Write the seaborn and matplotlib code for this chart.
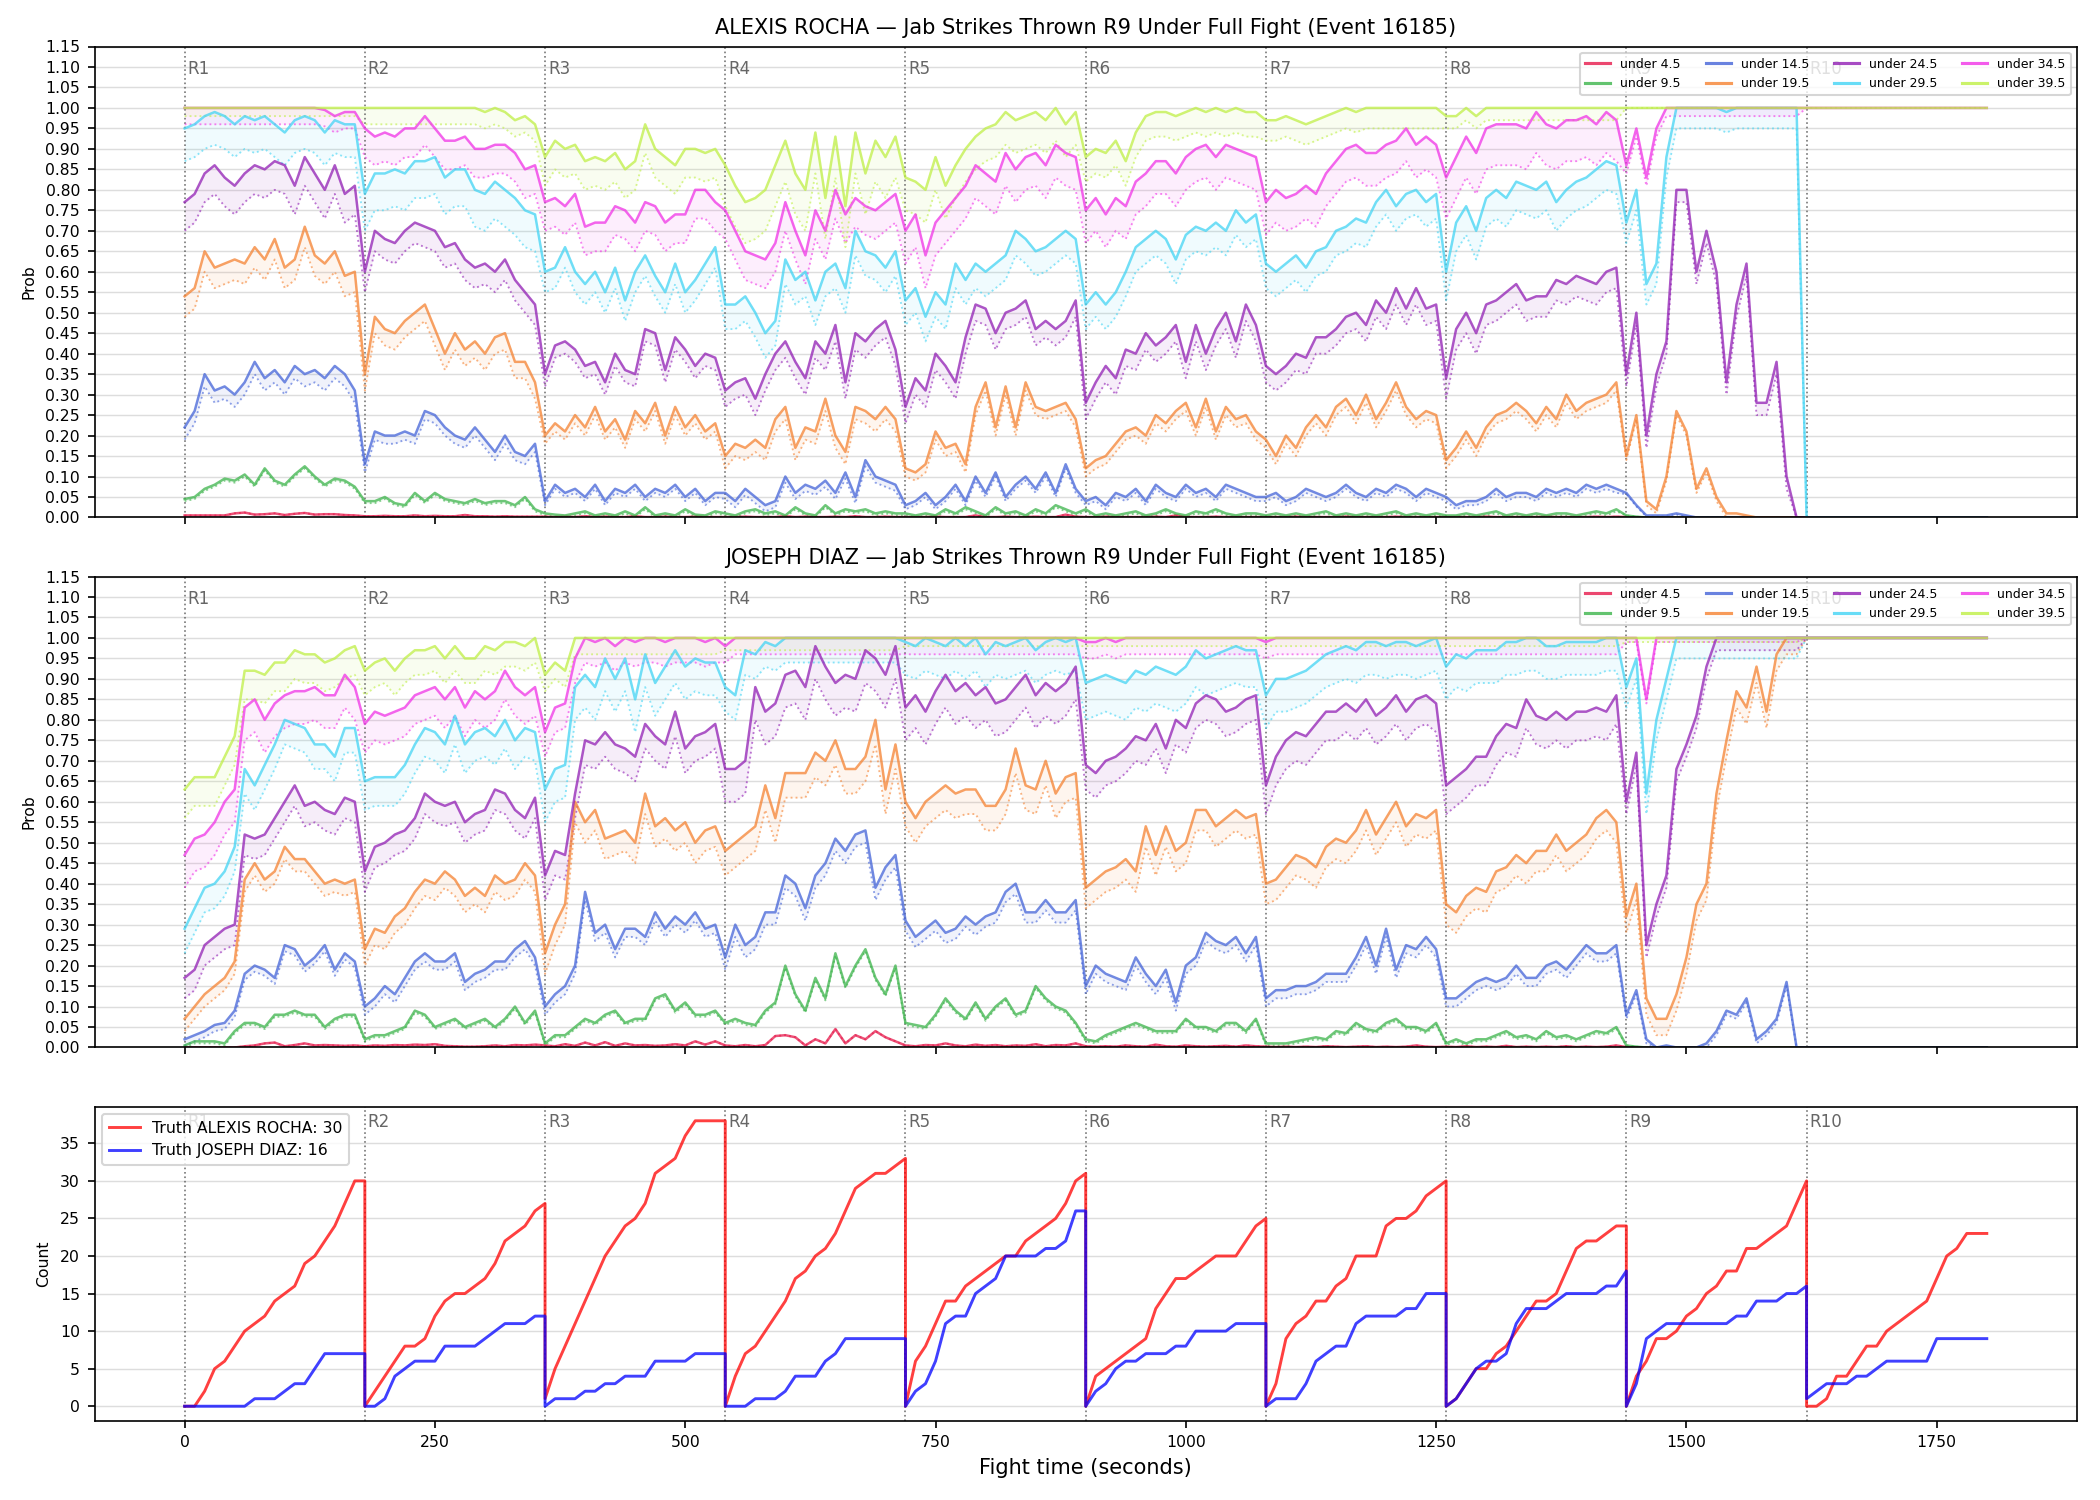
import numpy as np
import pandas as pd
import matplotlib
matplotlib.use("Agg")
import matplotlib.pyplot as plt
import matplotlib.transforms as mtransforms
from matplotlib.lines import Line2D
import seaborn as sns

fighter_a = "ALEXIS ROCHA"
fighter_b = "JOSEPH DIAZ"
title_tail = "Jab Strikes Thrown R9 Under Full Fight (Event 16185)"

thresholds = ["under 4.5", "under 9.5", "under 14.5", "under 19.5",
              "under 24.5", "under 29.5", "under 34.5", "under 39.5"]
colors = ["#e6194b", "#3cb44b", "#4363d8", "#f58231",
          "#911eb4", "#42d4f4", "#f032e6", "#bfef45"]

round_starts = [0, 180, 360, 540, 720, 900, 1080, 1260, 1440, 1620]
# probability samples every 10 s up to 1620, then held to 1800
prob_t = list(range(0, 1630, 10)) + [1800]

# ---- ALEXIS ROCHA probabilities (percent), one row per round R1..R9, then 1620, 1800
rocha_u45 = [
    0.5, 0.5, 0.5, 0.5, 0.5, 1.0, 1.2, 0.7, 0.8, 1.0, 0.6, 0.9, 1.1, 0.7, 0.8, 0.8, 0.6, 0.5,
    0.3, 0.3, 0.4, 0.3, 0.3, 0.5, 0.3, 0.4, 0.3, 0.3, 0.6, 0.3, 0.3, 0.2, 0.3, 0.2, 0.2, 0.2,
    0.2, 0.1, 0.2, 0.1, 0.3, 0.1, 0.2, 0.1, 0.1, 0.3, 0.1, 0.1, 0.2, 0.1, 0.1, 0.2, 0.1, 0.1,
    0.1, 0.1, 0.2, 0.1, 0.1, 0.1, 0.3, 0.1, 0.2, 0.1, 0.1, 0.2, 0.1, 0.3, 0.1, 0.1, 0.2, 0.1,
    0.1, 0.1, 0.1, 0.2, 0.1, 0.1, 0.1, 0.5, 0.1, 0.1, 0.2, 0.1, 0.1, 0.2, 0.1, 0.1, 0.7, 0.2,
    0.1, 0.1, 0.2, 0.1, 0.1, 0.1, 0.1, 0.2, 0.1, 0.5, 0.1, 0.1, 0.1, 0.2, 0.1, 0.1, 0.1, 0.1,
    0.1, 0.1, 0.1, 0.2, 0.1, 0.1, 0.1, 0.1, 0.2, 0.1, 0.1, 0.1, 0.1, 0.2, 0.1, 0.1, 0.1, 0.1,
    0.1, 0.1, 0.1, 0.1, 0.2, 0.1, 0.1, 0.1, 0.1, 0.1, 0.2, 0.1, 0.1, 0.1, 0.1, 0.2, 0.1, 0.2,
    0.1, 0.0, 0.0, 0.0, 0.0, 0.0, 0.0, 0.0, 0.0, 0.0, 0.0, 0.0, 0.0, 0.0, 0.0, 0.0, 0.0, 0.0,
    0.0, 0.0]
rocha_u95 = [
    4.5, 5, 7, 8, 9.5, 9, 10.5, 8, 12, 9, 8, 10.5, 12.5, 10, 8, 9.5, 9, 7.5,
    4, 4, 5, 3.5, 3, 6, 4, 6, 4.5, 4, 3.5, 4.5, 3.5, 4, 4, 3, 5, 2,
    1, 0.7, 0.5, 1, 1.5, 0.5, 1, 0.5, 1.5, 0.5, 2.5, 0.5, 1, 0.5, 2, 0.7, 0.5, 1.5,
    1, 0.5, 1.5, 2, 1, 1.5, 0.5, 2.5, 1, 0.5, 3, 1, 2, 1.5, 2, 1, 1.5, 1,
    1, 0.5, 1, 0.5, 2, 1, 2.5, 1.5, 0.5, 2.5, 1, 1.5, 0.5, 2, 1, 3, 2, 1,
    2, 0.5, 1, 0.5, 1, 1.5, 0.5, 1, 2, 1, 0.5, 1.5, 1, 2, 1, 0.5, 1, 1,
    0.5, 1, 0.5, 1, 0.5, 1, 1.5, 0.5, 1, 0.5, 1, 0.5, 1, 1.5, 0.5, 1, 0.5, 1,
    0.5, 0.5, 1, 0.5, 1, 1.5, 0.5, 1, 0.5, 1, 0.5, 1, 1, 0.5, 1, 1.5, 1, 2,
    0.5, 0.2, 0, 0, 0, 0, 0, 0, 0, 0, 0, 0, 0, 0, 0, 0, 0, 0,
    0, 0]
rocha_u145 = [
    22, 26, 35, 31, 32, 30, 33, 38, 34, 36, 33, 37, 35, 36, 34, 37, 35, 31,
    13, 21, 20, 20, 21, 20, 26, 25, 22, 20, 19, 22, 19, 16, 20, 16, 15, 18,
    4, 8, 6, 7, 5, 8, 4, 7, 6, 8, 5, 7, 6, 8, 5, 7, 4, 6,
    6, 4, 7, 5, 3, 4, 10, 6, 8, 7, 9, 6, 11, 5, 14, 10, 9, 8,
    3, 4, 6, 3, 5, 8, 4, 10, 6, 11, 5, 8, 10, 7, 11, 6, 13, 7,
    4, 5, 3, 6, 5, 7, 4, 8, 6, 5, 8, 6, 7, 5, 8, 7, 6, 5,
    5, 6, 4, 5, 7, 6, 5, 6, 8, 6, 5, 7, 6, 8, 7, 5, 7, 6,
    5, 3, 4, 4, 5, 7, 5, 6, 6, 5, 7, 6, 7, 6, 8, 7, 8, 7,
    6, 3, 0.5, 0.5, 0.5, 1, 0.5, 0, 0, 0, 0, 0, 0, 0, 0, 0, 0, 0,
    0, 0]
rocha_u195 = [
    54, 56, 65, 61, 62, 63, 62, 66, 63, 68, 61, 63, 71, 64, 62, 65, 59, 60,
    35, 49, 46, 45, 48, 50, 52, 46, 40, 45, 41, 43, 40, 44, 45, 38, 38, 33,
    20, 23, 21, 25, 22, 27, 21, 24, 19, 26, 23, 28, 20, 27, 22, 25, 21, 23,
    15, 18, 17, 19, 17, 24, 27, 17, 22, 21, 29, 20, 16, 27, 26, 24, 27, 24,
    12, 11, 13, 21, 17, 18, 13, 27, 33, 22, 32, 22, 33, 27, 26, 27, 28, 24,
    12, 14, 15, 18, 21, 22, 20, 25, 23, 26, 28, 22, 29, 21, 27, 24, 25, 21,
    19, 15, 20, 17, 22, 25, 22, 27, 29, 25, 30, 24, 28, 33, 27, 24, 26, 25,
    14, 17, 21, 17, 22, 25, 26, 28, 26, 23, 27, 24, 30, 26, 28, 29, 30, 33,
    15, 25, 4, 2, 10, 26, 21, 7, 12, 5, 1, 1, 0.5, 0, 0, 0, 0, 0,
    0, 0]
rocha_u245 = [
    77, 79, 84, 86, 83, 81, 84, 86, 85, 87, 86, 81, 88, 84, 80, 86, 79, 81,
    60, 70, 68, 67, 70, 72, 71, 70, 66, 67, 63, 61, 62, 60, 63, 58, 55, 52,
    35, 42, 43, 41, 37, 38, 33, 40, 36, 35, 46, 45, 36, 44, 41, 37, 40, 39,
    31, 33, 34, 29, 35, 40, 43, 38, 34, 43, 40, 47, 33, 45, 43, 46, 48, 41,
    27, 34, 31, 40, 37, 33, 44, 52, 51, 45, 50, 51, 53, 46, 48, 46, 48, 53,
    28, 33, 37, 34, 41, 40, 45, 42, 44, 47, 38, 47, 40, 46, 50, 43, 52, 47,
    37, 35, 37, 40, 39, 44, 44, 46, 49, 50, 47, 53, 50, 56, 51, 56, 51, 52,
    34, 46, 50, 45, 52, 53, 55, 57, 53, 54, 54, 58, 57, 59, 58, 57, 60, 61,
    35, 50, 20, 35, 43, 80, 80, 60, 70, 60, 33, 52, 62, 28, 28, 38, 10, 0,
    0, 0]
rocha_u295 = [
    95, 96, 98, 99, 98, 96, 98, 97, 98, 96, 94, 97, 98, 97, 94, 97, 96, 96,
    79, 84, 84, 85, 84, 87, 87, 88, 83, 85, 85, 80, 79, 82, 80, 78, 75, 74,
    60, 61, 66, 60, 57, 60, 55, 61, 53, 60, 64, 59, 55, 62, 55, 58, 62, 66,
    52, 52, 54, 50, 45, 48, 63, 58, 60, 53, 60, 62, 56, 70, 65, 64, 61, 65,
    53, 56, 49, 55, 52, 62, 58, 62, 60, 62, 64, 70, 68, 65, 66, 68, 70, 68,
    52, 55, 52, 55, 60, 66, 68, 70, 68, 63, 69, 71, 70, 72, 70, 75, 72, 74,
    62, 60, 62, 64, 61, 65, 66, 70, 71, 73, 72, 77, 80, 76, 79, 80, 77, 79,
    60, 72, 76, 70, 78, 80, 78, 82, 81, 80, 82, 77, 80, 82, 83, 85, 87, 86,
    72, 80, 57, 62, 88, 100, 100, 100, 100, 100, 99, 100, 100, 100, 100, 100, 100, 100,
    0, 0]
rocha_u345 = [
    100, 100, 100, 100, 100, 100, 100, 100, 100, 100, 100, 100, 100, 100, 99.5, 98, 99, 99,
    95, 93, 94, 93, 95, 95, 98, 95, 92, 92, 93, 90, 90, 91, 91, 89, 85, 86,
    77, 78, 76, 79, 71, 72, 72, 76, 75, 72, 77, 76, 72, 74, 74, 80, 80, 77,
    75, 70, 65, 64, 63, 67, 77, 70, 64, 75, 70, 80, 74, 78, 76, 75, 77, 79,
    70, 74, 64, 72, 75, 78, 81, 86, 84, 82, 89, 85, 88, 89, 86, 91, 89, 88,
    75, 78, 74, 78, 76, 82, 84, 87, 87, 84, 88, 90, 91, 88, 91, 90, 89, 88,
    77, 80, 78, 79, 81, 79, 84, 87, 90, 91, 89, 89, 91, 92, 95, 91, 93, 91,
    83, 88, 93, 89, 95, 96, 96, 96, 95, 99, 96, 95, 97, 97, 98, 96, 99, 97,
    86, 95, 83, 95, 100, 100, 100, 100, 100, 100, 100, 100, 100, 100, 100, 100, 100, 100,
    100, 100]
rocha_u395 = [
    100, 100, 100, 100, 100, 100, 100, 100, 100, 100, 100, 100, 100, 100, 100, 100, 100, 100,
    100, 100, 100, 100, 100, 100, 100, 100, 100, 100, 100, 100, 99, 100, 99, 97, 98, 96,
    88, 92, 90, 91, 87, 88, 87, 89, 85, 87, 96, 90, 88, 86, 90, 90, 89, 90,
    86, 81, 77, 78, 80, 86, 92, 84, 80, 94, 78, 93, 76, 94, 84, 92, 88, 93,
    83, 82, 80, 88, 81, 86, 90, 93, 95, 96, 99, 97, 98, 99, 97, 100, 96, 99,
    88, 90, 89, 92, 87, 94, 98, 99, 99, 98, 99, 100, 99, 100, 99, 100, 99, 99,
    97, 97, 98, 97, 96, 97, 98, 99, 100, 99, 100, 100, 100, 100, 100, 100, 100, 100,
    98, 98, 100, 98, 100, 100, 100, 100, 100, 100, 100, 100, 100, 100, 100, 100, 100, 100,
    100, 100, 100, 100, 100, 100, 100, 100, 100, 100, 100, 100, 100, 100, 100, 100, 100, 100,
    100, 100]

# width of the dotted lower band per round R1..R9 (percent points)
rocha_gap = [
    [0, 0, 0, 0, 0, 0, 0, 0, 0],
    [0.5, 0.5, 0.5, 0.5, 0.5, 0.5, 0.5, 0.5, 0],
    [3, 2, 1, 1.5, 1, 1, 1, 1, 0.3],
    [5, 4, 2, 3, 2, 2, 2, 2, 1],
    [7, 5, 3, 4, 4, 4, 4, 5, 3],
    [8, 9, 5, 6, 6, 6, 6, 7, 5],
    [4, 7, 7, 7, 8, 8, 8, 10, 2],
    [2, 4, 7, 10, 8, 6, 5, 3, 0],
]

# ---- JOSEPH DIAZ probabilities (percent)
diaz_u45 = [
    0, 0, 0, 0, 0, 0, 0.3, 0.5, 1, 1.2, 0.3, 0.6, 1, 0.5, 0.6, 0.5, 0.4, 0.5,
    0.3, 0.5, 0.4, 0.6, 0.5, 0.7, 0.6, 0.8, 0.4, 0.3, 0.2, 0.2, 0.3, 0.5, 0.3, 0.6, 0.5, 0.7,
    0.5, 0.3, 0.8, 0.4, 1.2, 0.5, 1.3, 0.4, 1, 0.5, 0.6, 0.4, 0.5, 0.8, 0.5, 1.5, 0.7, 1.5,
    0.5, 0.3, 0.6, 0.3, 0.6, 2.8, 3, 2.5, 0.5, 2, 1, 4.5, 1, 3, 2, 4, 2.5, 1.5,
    0.5, 0.3, 0.6, 0.5, 1, 0.5, 0.3, 0.7, 0.4, 0.6, 0.3, 0.5, 0.4, 0.8, 0.3, 0.6, 0.5, 1,
    0.3, 0.2, 0.3, 0.2, 0.5, 0.3, 0.2, 0.7, 0.3, 0.2, 0.5, 0.3, 0.2, 0.3, 0.4, 0.2, 0.5, 0.3,
    0.2, 0.1, 0.2, 0.1, 0.2, 0.1, 0.3, 0.2, 0.1, 0.2, 0.3, 0.1, 0.2, 0.1, 0.2, 0.5, 0.2, 0.1,
    0.2, 0.1, 0.3, 0.1, 0.2, 0.1, 0.4, 0.1, 0.2, 0.1, 0.2, 0.1, 0.3, 0.1, 0.2, 0.1, 0.2, 0.5,
    0.1, 0, 0, 0, 0, 0, 0, 0, 0, 0, 0, 0, 0, 0, 0, 0, 0, 0,
    0, 0]
diaz_u95 = [
    0.5, 1.5, 1.5, 1.5, 1, 4, 6, 6, 5, 8, 8, 9, 8, 8, 5, 7, 8, 8,
    2, 3, 3, 4, 5, 9, 8, 5, 6, 7, 5, 6, 7, 5, 7, 10, 6, 9,
    1, 3, 3, 5, 7, 6, 8, 9, 6, 7, 7, 12, 13, 9, 11, 8, 8, 9,
    6, 7, 6, 5.5, 9, 11, 20, 13, 9, 17, 12, 23, 15, 20, 24, 17, 13, 20,
    6, 5.5, 5, 8, 12, 9, 7, 11, 7, 10, 12, 8, 9, 15, 12, 10, 9, 6,
    2, 1.5, 3, 4, 5, 6, 5, 4, 4, 4, 7, 5, 5, 4, 6, 6, 4, 7,
    1, 1, 1, 1.5, 2, 2.5, 2, 4, 3.5, 6, 4.5, 4, 6, 7, 5, 5, 4, 6,
    1, 2, 1, 2, 2, 3, 4, 2.5, 3, 2, 4, 2.5, 3, 2, 3, 4, 3.5, 5,
    0.5, 0.2, 0, 0, 0, 0, 0, 0, 0, 0, 0, 0, 0, 0, 0, 0, 0, 0,
    0, 0]
diaz_u145 = [
    2, 3, 4, 5.5, 6, 9, 18, 20, 19, 17, 25, 24, 20, 22, 25, 19, 23, 21,
    10, 12, 15, 13, 17, 21, 23, 21, 21, 23, 16, 18, 19, 21, 21, 24, 26, 22,
    10, 13, 15, 20, 38, 28, 30, 24, 29, 29, 27, 33, 29, 32, 30, 33, 29, 30,
    22, 30, 25, 27, 33, 33, 42, 40, 34, 42, 45, 51, 48, 52, 53, 39, 44, 47,
    31, 27, 29, 31, 28, 29, 32, 30, 32, 33, 38, 40, 33, 33, 36, 33, 33, 36,
    15, 20, 18, 17, 16, 22, 18, 15, 19, 11, 20, 22, 28, 26, 25, 27, 23, 27,
    12, 14, 14, 15, 15, 16, 18, 18, 18, 22, 27, 20, 29, 19, 25, 24, 27, 24,
    12, 12, 14, 16, 17, 16, 17, 20, 17, 17, 20, 21, 19, 22, 25, 23, 23, 25,
    8, 14, 2, 0, 0.5, 0, 0, 0, 1, 4, 9, 8, 12, 2, 4, 7, 16, 0,
    0, 0]
diaz_u195 = [
    7, 10, 13, 15, 17, 21, 41, 45, 41, 43, 49, 46, 46, 43, 40, 41, 40, 41,
    24, 29, 28, 32, 34, 38, 41, 40, 43, 41, 37, 39, 37, 42, 40, 41, 45, 42,
    23, 30, 35, 60, 55, 58, 51, 52, 53, 50, 62, 54, 56, 53, 55, 50, 53, 54,
    48, 50, 52, 54, 64, 56, 67, 67, 67, 72, 70, 75, 68, 68, 71, 80, 63, 74,
    60, 56, 60, 62, 64, 62, 63, 63, 59, 59, 63, 73, 64, 63, 70, 62, 66, 67,
    39, 41, 43, 44, 46, 43, 54, 47, 54, 48, 50, 58, 58, 54, 56, 58, 56, 57,
    40, 41, 44, 47, 46, 44, 49, 51, 50, 53, 58, 52, 56, 60, 54, 57, 56, 58,
    35, 33, 37, 39, 38, 43, 44, 47, 45, 48, 48, 52, 48, 50, 52, 56, 58, 55,
    32, 40, 12, 7, 7, 13, 22, 35, 40, 62, 75, 87, 83, 93, 82, 96, 100, 100,
    100, 100]
diaz_u245 = [
    17, 19, 25, 27, 29, 30, 52, 51, 52, 56, 60, 64, 59, 60, 58, 57, 61, 60,
    43, 49, 50, 52, 53, 56, 62, 60, 59, 60, 55, 57, 58, 63, 62, 58, 56, 61,
    42, 48, 47, 62, 75, 74, 77, 74, 73, 71, 79, 76, 74, 82, 73, 76, 77, 79,
    68, 68, 70, 88, 82, 84, 91, 92, 88, 98, 93, 89, 91, 90, 97, 95, 91, 98,
    83, 86, 82, 87, 91, 87, 89, 86, 88, 84, 85, 88, 91, 86, 89, 87, 89, 93,
    69, 67, 70, 71, 73, 76, 75, 79, 73, 80, 78, 84, 86, 85, 82, 83, 85, 86,
    64, 71, 75, 77, 76, 79, 82, 82, 84, 82, 85, 81, 83, 86, 82, 85, 86, 84,
    64, 66, 68, 71, 71, 76, 79, 78, 85, 81, 80, 82, 80, 82, 82, 83, 82, 86,
    60, 72, 25, 35, 42, 68, 74, 81, 93, 100, 100, 100, 100, 100, 100, 100, 100, 100,
    100, 100]
diaz_u295 = [
    29, 34, 39, 40, 43, 49, 68, 64, 69, 74, 80, 79, 78, 74, 74, 71, 78, 78,
    65, 66, 66, 66, 69, 74, 78, 77, 74, 81, 74, 77, 78, 76, 80, 75, 78, 77,
    63, 68, 69, 88, 91, 88, 95, 90, 95, 85, 96, 89, 93, 97, 93, 95, 94, 94,
    88, 86, 97, 96, 99, 98, 100, 100, 100, 100, 100, 100, 100, 100, 100, 100, 100, 100,
    99, 98, 100, 99, 98, 100, 98, 100, 96, 99, 98, 99, 100, 97, 99, 100, 99, 100,
    89, 90, 91, 90, 89, 92, 91, 93, 92, 91, 93, 97, 95, 96, 97, 98, 97, 97,
    86, 90, 90, 91, 92, 94, 96, 97, 98, 97, 99, 99, 98, 99, 99, 98, 99, 100,
    93, 96, 95, 97, 97, 97, 99, 99, 100, 100, 98, 98, 99, 99, 99, 99, 100, 100,
    88, 95, 62, 80, 90, 100, 100, 100, 100, 100, 100, 100, 100, 100, 100, 100, 100, 100,
    100, 100]
diaz_u345 = [
    47, 51, 52, 55, 60, 63, 83, 85, 80, 84, 86, 87, 87, 88, 86, 86, 91, 88,
    79, 82, 81, 82, 83, 86, 87, 88, 85, 88, 83, 87, 85, 87, 92, 88, 86, 88,
    77, 83, 84, 95, 100, 99, 100, 98, 100, 99, 100, 100, 99, 100, 100, 100, 99, 100,
    98, 100, 100, 100, 100, 100, 100, 100, 100, 100, 100, 100, 100, 100, 100, 100, 100, 100,
    100, 100, 100, 100, 100, 100, 100, 100, 100, 100, 100, 100, 100, 100, 100, 100, 100, 100,
    99, 99, 100, 99, 100, 100, 100, 100, 100, 100, 100, 100, 100, 100, 100, 100, 100, 100,
    99, 100, 100, 100, 100, 100, 100, 100, 100, 100, 100, 100, 100, 100, 100, 100, 100, 100,
    100, 100, 100, 100, 100, 100, 100, 100, 100, 100, 100, 100, 100, 100, 100, 100, 100, 100,
    100, 100, 85, 100, 100, 100, 100, 100, 100, 100, 100, 100, 100, 100, 100, 100, 100, 100,
    100, 100]
diaz_u395 = [
    63, 66, 66, 66, 71, 76, 92, 92, 91, 94, 94, 97, 96, 96, 94, 95, 97, 98,
    92, 94, 95, 92, 95, 97, 97, 98, 95, 98, 95, 95, 98, 97, 99, 99, 98, 100,
    91, 94, 92, 100, 100, 100, 100, 100, 100, 100, 100, 100, 100, 100, 100, 100, 100, 100,
    100, 100, 100, 100, 100, 100, 100, 100, 100, 100, 100, 100, 100, 100, 100, 100, 100, 100,
    100, 100, 100, 100, 100, 100, 100, 100, 100, 100, 100, 100, 100, 100, 100, 100, 100, 100,
    100, 100, 100, 100, 100, 100, 100, 100, 100, 100, 100, 100, 100, 100, 100, 100, 100, 100,
    100, 100, 100, 100, 100, 100, 100, 100, 100, 100, 100, 100, 100, 100, 100, 100, 100, 100,
    100, 100, 100, 100, 100, 100, 100, 100, 100, 100, 100, 100, 100, 100, 100, 100, 100, 100,
    100, 100, 100, 100, 100, 100, 100, 100, 100, 100, 100, 100, 100, 100, 100, 100, 100, 100,
    100, 100]

diaz_gap = [
    [0, 0, 0, 0, 0, 0, 0, 0, 0],
    [0.5, 0.5, 0.5, 0.5, 0.5, 0.5, 0.5, 0.5, 0],
    [1.5, 2, 2, 3, 2.5, 2, 2, 2, 1],
    [3, 4, 5, 6, 6, 5, 5, 5, 4],
    [5, 5, 6, 8, 8, 6, 7, 7, 3],
    [6, 7, 8, 6, 8, 9, 8, 8, 5],
    [8, 7, 6, 4, 4, 4, 4, 4, 1],
    [7, 6, 4, 3, 2, 2, 2, 2, 1],
]

# ---- truth counts, cumulative within each round, every 10 s (offset 0..180)
count_offsets = list(range(0, 181, 10))
rocha_truth = [
    0, 0, 2, 5, 6, 8, 10, 11, 12, 14, 15, 16, 19, 20, 22, 24, 27, 30, 30,
    0, 2, 4, 6, 8, 8, 9, 12, 14, 15, 15, 16, 17, 19, 22, 23, 24, 26, 27,
    1, 5, 8, 11, 14, 17, 20, 22, 24, 25, 27, 31, 32, 33, 36, 38, 38, 38, 38,
    0, 4, 7, 8, 10, 12, 14, 17, 18, 20, 21, 23, 26, 29, 30, 31, 31, 32, 33,
    0, 6, 8, 11, 14, 14, 16, 17, 18, 19, 20, 20, 22, 23, 24, 25, 27, 30, 31,
    0, 4, 5, 6, 7, 8, 9, 13, 15, 17, 17, 18, 19, 20, 20, 20, 22, 24, 25,
    0, 3, 9, 11, 12, 14, 14, 16, 17, 20, 20, 20, 24, 25, 25, 26, 28, 29, 30,
    0, 1, 3, 5, 5, 7, 8, 10, 12, 14, 14, 15, 18, 21, 22, 22, 23, 24, 24,
    0, 4, 6, 9, 9, 10, 12, 13, 15, 16, 18, 18, 21, 21, 22, 23, 24, 27, 30,
    0, 0, 1, 4, 4, 6, 8, 8, 10, 11, 12, 13, 14, 17, 20, 21, 23, 23, 23]
diaz_truth = [
    0, 0, 0, 0, 0, 0, 0, 1, 1, 1, 2, 3, 3, 5, 7, 7, 7, 7, 7,
    0, 0, 1, 4, 5, 6, 6, 6, 8, 8, 8, 8, 9, 10, 11, 11, 11, 12, 12,
    0, 1, 1, 1, 2, 2, 3, 3, 4, 4, 4, 6, 6, 6, 6, 7, 7, 7, 7,
    0, 0, 0, 1, 1, 1, 2, 4, 4, 4, 6, 7, 9, 9, 9, 9, 9, 9, 9,
    0, 2, 3, 6, 11, 12, 12, 15, 16, 17, 20, 20, 20, 20, 21, 21, 22, 26, 26,
    0, 2, 3, 5, 6, 6, 7, 7, 7, 8, 8, 10, 10, 10, 10, 11, 11, 11, 11,
    0, 1, 1, 1, 3, 6, 7, 8, 8, 11, 12, 12, 12, 12, 13, 13, 15, 15, 15,
    0, 1, 3, 5, 6, 6, 7, 11, 13, 13, 13, 14, 15, 15, 15, 15, 16, 16, 18,
    0, 3, 9, 10, 11, 11, 11, 11, 11, 11, 11, 12, 12, 14, 14, 14, 15, 15, 16,
    1, 2, 3, 3, 3, 4, 4, 5, 6, 6, 6, 6, 6, 9, 9, 9, 9, 9, 9]
truth_labels = [f"Truth {fighter_a}: 30", f"Truth {fighter_b}: 16"]

rocha_series = [rocha_u45, rocha_u95, rocha_u145, rocha_u195,
                rocha_u245, rocha_u295, rocha_u345, rocha_u395]
diaz_series = [diaz_u45, diaz_u95, diaz_u145, diaz_u195,
               diaz_u245, diaz_u295, diaz_u345, diaz_u395]


def round_marks(ax):
    trans = mtransforms.blended_transform_factory(ax.transData, ax.transAxes)
    for i, rs in enumerate(round_starts):
        ax.axvline(rs, color="#555555", ls=":", lw=0.8, alpha=0.8, zorder=1)
        ax.text(rs + 3, 0.952, f"R{i + 1}", transform=trans, color="#666666",
                fontsize=8, va="center", ha="left")


def prob_panel(ax, series, gaps, title):
    t = np.array(prob_t)
    rnd = np.minimum(t // 180, 9)
    frames = []
    for name, col, vals, gap in zip(thresholds, colors, series, gaps):
        y = np.array(vals, dtype=float) / 100
        low = np.clip(y - np.append(gap, 0)[rnd] / 100, 0, 1)
        ax.fill_between(t, low, y, color=col, alpha=0.08, lw=0)
        ax.plot(t, low, color=col, ls=":", lw=0.9, alpha=0.6)
        frames.append(pd.DataFrame({"t": t, "prob": y, "line": name}))
    df = pd.concat(frames, ignore_index=True)
    sns.lineplot(data=df, x="t", y="prob", hue="line", hue_order=thresholds,
                 palette=dict(zip(thresholds, colors)), estimator=None, sort=False,
                 linewidth=1.2, alpha=0.75, legend=False, ax=ax)
    round_marks(ax)
    ax.set_ylim(0, 1.15)
    ax.set_yticks(np.round(np.arange(0, 1.151, 0.05), 2))
    ax.yaxis.set_major_formatter(matplotlib.ticker.FormatStrFormatter("%.2f"))
    ax.grid(axis="y", color="#dddddd", lw=0.7)
    ax.set_axisbelow(True)
    ax.set_title(title, fontsize=10)
    ax.set_ylabel("Prob", fontsize=7.5)
    ax.set_xlabel("")
    handles = [Line2D([], [], color=c, lw=1.5, alpha=0.8) for c in colors]
    ax.legend(handles, thresholds, ncol=4, fontsize=6.0, loc="upper right")
    ax.tick_params(labelsize=7.5)


fig = plt.figure(figsize=(14, 10), dpi=150)
gs = fig.add_gridspec(3, 1, height_ratios=[3, 3, 2], left=0.045, right=0.989,
                      top=0.969, bottom=0.053, hspace=0.141)
ax1 = fig.add_subplot(gs[0])
ax2 = fig.add_subplot(gs[1], sharex=ax1)
ax3 = fig.add_subplot(gs[2], sharex=ax1)

prob_panel(ax1, rocha_series, rocha_gap, f"{fighter_a} — {title_tail}")
prob_panel(ax2, diaz_series, diaz_gap, f"{fighter_b} — {title_tail}")

count_t = np.concatenate([np.array(count_offsets) + rs for rs in round_starts])
cdf = pd.concat([
    pd.DataFrame({"t": count_t, "count": rocha_truth, "who": truth_labels[0]}),
    pd.DataFrame({"t": count_t, "count": diaz_truth, "who": truth_labels[1]}),
], ignore_index=True)
sns.lineplot(data=cdf, x="t", y="count", hue="who", hue_order=truth_labels,
             palette={truth_labels[0]: "red", truth_labels[1]: "blue"},
             estimator=None, sort=False, linewidth=1.4, alpha=0.75, ax=ax3)
round_marks(ax3)
ax3.grid(axis="y", color="#dddddd", lw=0.7)
ax3.set_axisbelow(True)
ax3.legend(loc="upper left", fontsize=7.5)
ax3.set_ylabel("Count", fontsize=7.5)
ax3.set_xlabel("Fight time (seconds)", fontsize=10)
ax3.tick_params(labelsize=7.5)

plt.setp(ax1.get_xticklabels(), visible=False)
plt.setp(ax2.get_xticklabels(), visible=False)
ax1.set_xlim(-90, 1890)

fig.savefig("out.png", dpi=150)
